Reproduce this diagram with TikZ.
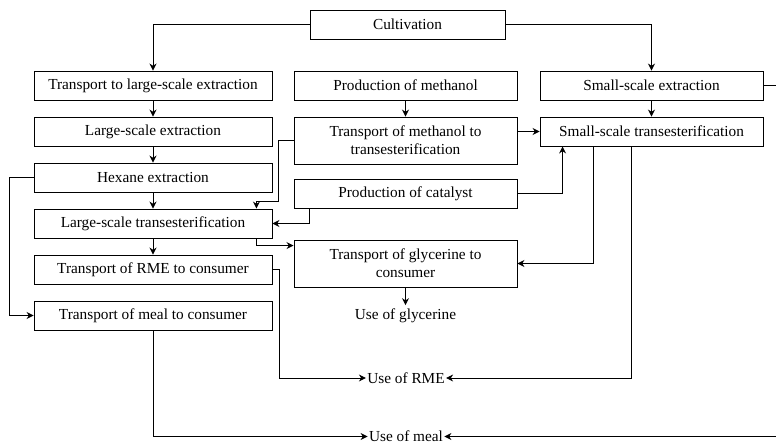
\documentclass[tikz,border=0pt]{standalone}
\usepackage{fontspec}
\setmainfont{Liberation Serif}
\usetikzlibrary{arrows.meta}

\begin{document}
\begin{tikzpicture}[
		x=1pt, y=-1pt,
		font=\fontsize{15.3}{18}\selectfont,
		line width=0.9pt,
		box/.style={draw, align=center, minimum width=223pt, minimum height=29pt, inner sep=2pt},
		widebox/.style={box, minimum width=238pt},
		arr/.style={-{Stealth[length=7pt,width=7pt]}}
	]
	\useasboundingbox (0,0) rectangle (776,446);

	% large-scale chain
	\node[box, minimum width=195pt] (cult) at (407.5,24.5) {Cultivation};
	\node[widebox] (tlse) at (153,85.5) {Transport to large-scale extraction};
	\node[widebox] (lse) at (153,131.5) {Large-scale extraction};
	\node[widebox] (hex) at (153,177.5) {Hexane extraction};
	\node[widebox] (lst) at (153,223.5) {Large-scale transesterification};
	\node[widebox] (trme) at (153,269.5) {Transport of RME to consumer};
	\node[widebox] (tmeal) at (153,315.5) {Transport of meal to consumer};

	% methanol, catalyst, glycerine
	\node[box] (pmeth) at (405.5,85.5) {Production of methanol};
	\node[box, minimum height=47pt] (tmeth) at (405.5,140.5) {Transport of methanol to\\transesterification};
	\node[box] (pcat) at (405.5,193.5) {Production of catalyst};
	\node[box, minimum height=47pt] (tgly) at (405.5,263.5) {Transport of glycerine to\\consumer};
	\node (ugly) at (405.5,316) {Use of glycerine};

	% small-scale chain
	\node[box] (sse) at (651.5,85.5) {Small-scale extraction};
	\node[box] (sst) at (651.5,131.5) {Small-scale transesterification};

	% end uses
	\node[inner sep=1pt] (urme) at (406,378) {Use of RME};
	\node[inner sep=1pt] (umeal) at (406,436.5) {Use of meal};

	\draw[arr] (cult.west) -| (tlse.north);
	\draw[arr] (cult.east) -| (sse.north);
	\draw[arr] (tlse) -- (lse);
	\draw[arr] (lse) -- (hex);
	\draw[arr] (hex) -- (lst);
	\draw[arr] (lst) -- (trme);
	\draw[arr] (hex.west) -- ++(-24,0) |- (tmeal.west);
	\draw[arr] (tmeth.west) -- ++(-15,0) -- ++(0,61) -| ([xshift=-16pt]lst.north east);
	\draw[arr] ([xshift=16pt]pcat.south west) |- (lst.east);
	\draw[arr] ([xshift=-16pt]lst.south east) |- ([yshift=-6pt]tgly.north west);
	\draw[arr] (trme.east) -- ++(7,0) |- (urme.west);
	\draw[arr] (tmeal.south) |- (umeal.west);
	\draw[arr] (pmeth) -- (tmeth);
	\draw[arr] (tmeth.east |- sst.west) -- (sst.west);
	\draw[arr] (pcat.east) -| ([xshift=23pt]sst.south west);
	\draw[arr] ([xshift=54pt]sst.south west) |- (tgly.east);
	\draw[arr] ([xshift=92pt]sst.south west) |- (urme.east);
	\draw[arr] (sse) -- (sst);
	\draw[arr] (sse.east) -- ++(16,0) |- (umeal.east);
	\draw[arr] (tgly) -- (ugly);
\end{tikzpicture}
\end{document}
